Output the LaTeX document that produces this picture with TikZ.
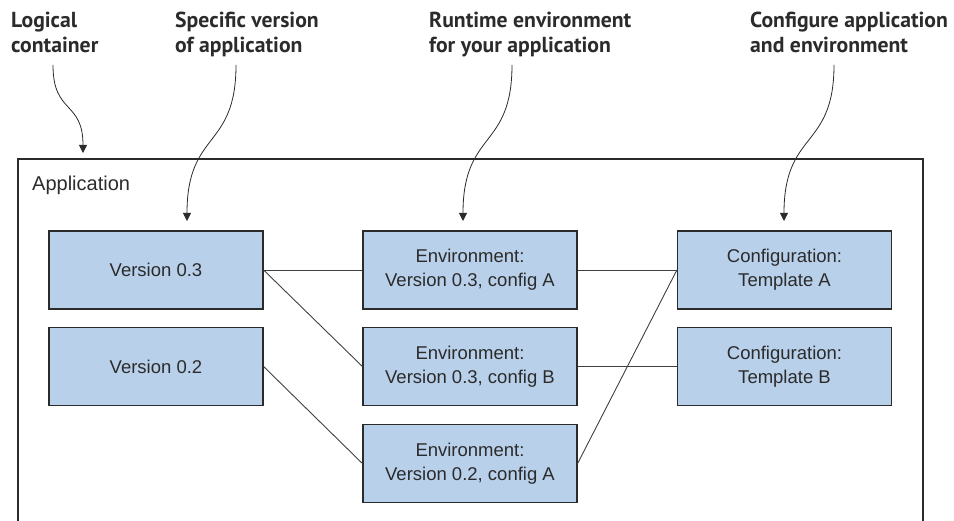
\documentclass[tikz,border=0pt]{standalone}
\usepackage{fontspec}
\setmainfont{Liberation Sans}
\newfontfamily\lblfont{PT Sans}
\usetikzlibrary{arrows.meta}
\definecolor{boxfill}{HTML}{B9D0EA}
\definecolor{ink}{HTML}{2B2B2B}
\begin{document}
\begin{tikzpicture}[x=1pt,y=-1pt,
  box/.style={draw=ink,line width=1.2pt,fill=boxfill,minimum width=214pt,minimum height=78pt,inner sep=0pt,align=center,text=ink,font=\fontsize{18.5}{24}\selectfont},
  link/.style={draw=ink!90,line width=0.9pt},
  lbl/.style={anchor=base west,align=left,inner sep=0pt,text=ink,font=\lblfont\bfseries\fontsize{21.7}{25}\selectfont},
  callout/.style={draw=ink,line width=0.8pt,-{Triangle[width=8pt,length=8pt]}}]
\useasboundingbox (0,0) rectangle (954,521);
\clip (0,0) rectangle (954,521);
% container
\draw[ink,line width=1.2pt] (18,530) -- (18,159) -- (923,159) -- (923,530);
\node[anchor=base west,inner sep=0pt,text=ink,font=\fontsize{20}{24}\selectfont] (app) at (32,191) {Application};
% boxes
\node[box] (v3) at (156,270) {Version 0.3};
\node[box] (v2) at (156,366.5) {Version 0.2};
\node[box] (e1) at (470,270) {Environment:\\Version 0.3, config A};
\node[box] (e2) at (470,366.5) {Environment:\\Version 0.3, config B};
\node[box] (e3) at (470,463.5) {Environment:\\Version 0.2, config A};
\node[box] (ca) at (784.5,270) {Configuration:\\Template A};
\node[box] (cb) at (784.5,366.5) {Configuration:\\Template B};
% links
\draw[link] (v3.east) -- (e1.west);
\draw[link] (v3.east) -- (e2.west);
\draw[link] (v2.east) -- (e3.west);
\draw[link] (e1.east) -- (ca.west);
\draw[link] (e2.east) -- (cb.west);
\draw[link] (e3.east) -- (ca.west);
% labels
\node[lbl] (l1) at (11,53) {Logical\\container};
\node[lbl] (l2) at (175,53) {Specific version\\of application};
\node[lbl] (l3) at (429,53) {Runtime environment\\for your application};
\node[lbl] (l4) at (750,53) {Configure application\\and environment};
% callout coordinates
\coordinate (s1) at (53,65);   \coordinate (t1) at (83,153);
\coordinate (s2) at (236,65);  \coordinate (t2) at (187,221);
\coordinate (s3) at (512,65);  \coordinate (t3) at (463,221);
\coordinate (s4) at (834,65);  \coordinate (t4) at (784,221);
\draw[callout] (s1) .. controls (53,115) and (83,100) .. (t1);
\draw[callout] (s2) .. controls (236,150) and (187,130) .. (t2);
\draw[callout] (s3) .. controls (512,150) and (463,130) .. (t3);
\draw[callout] (s4) .. controls (834,150) and (784,130) .. (t4);
\end{tikzpicture}
\end{document}
